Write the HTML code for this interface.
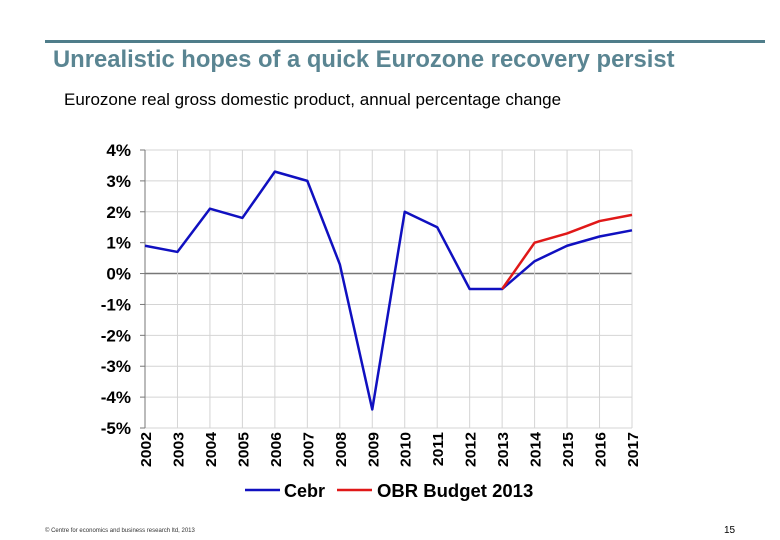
<!DOCTYPE html>
<html><head><meta charset="utf-8"><style>
body{margin:0;width:780px;height:540px;background:#fff;overflow:hidden;font-family:"Liberation Sans",sans-serif;position:relative}
.abs{position:absolute}
</style></head><body>
<div class="abs" style="left:45px;top:40px;width:720px;height:3px;background:#4f7d8a"></div>
<div class="abs" style="left:53px;top:46px;font-size:23.8px;font-weight:bold;color:#5a8592;white-space:nowrap">Unrealistic hopes of a quick Eurozone recovery persist</div>
<div class="abs" style="left:64px;top:90px;font-size:17px;color:#000;white-space:nowrap">Eurozone real gross domestic product, annual percentage change</div>
<svg class="abs" style="left:0;top:0" width="780" height="540" id="chart"></svg>
<div class="abs" style="left:45px;top:528px;font-size:6px;color:#333">© Centre for economics and business research ltd, 2013</div>
<div class="abs" style="left:724px;top:525px;font-size:10px;color:#000">15</div>
<script>
const years=["2002","2003","2004","2005","2006","2007","2008","2009","2010","2011","2012","2013","2014","2015","2016","2017"];
const cebr=[0.9,0.7,2.1,1.8,3.3,3.0,0.3,-4.4,2.0,1.5,-0.5,-0.5,0.4,0.9,1.2,1.4];
const obrYears=["2013","2014","2015","2016","2017"];
const obr=[-0.5,1.0,1.3,1.7,1.9];
const yTicks=[4,3,2,1,0,-1,-2,-3,-4,-5];
const NS="http://www.w3.org/2000/svg";
const svg=document.getElementById('chart');
const x0=145,x1=632,yTop=150,yBot=428,vMax=4,vMin=-5;
const xs=i=>x0+(x1-x0)*i/(years.length-1);
const xy=y=>xs(years.indexOf(y));
const ys=v=>yTop+(vMax-v)*(yBot-yTop)/(vMax-vMin);
function mk(t,a){const e=document.createElementNS(NS,t);for(const k in a)e.setAttribute(k,a[k]);svg.appendChild(e);return e;}
yTicks.forEach(v=>{
 const l=mk('line',{x1:x0,x2:x1,y1:ys(v),y2:ys(v),stroke:v===0?'#777':'#d4d4d4','stroke-width':v===0?1.5:1});
 
 
 const t=mk('text',{x:x0-14,y:ys(v)+6,'text-anchor':'end','font-size':17,'font-weight':'bold',fill:'#000'});
 t.textContent=v+'%';
 
 
 const tk=mk('line',{x1:x0-5,x2:x0,y1:ys(v),y2:ys(v),stroke:'#777'});
 
 
});
years.forEach((y,i)=>{
 const g=mk('line',{x1:xs(i),x2:xs(i),y1:yTop,y2:yBot,stroke:i===0?'#777':'#d4d4d4','stroke-width':1});
 
 
 const t=mk('text',{transform:`translate(${xs(i)+6},${yBot+4}) rotate(-90) scale(1.05,1)`,'text-anchor':'end','font-size':15,'font-weight':'bold',fill:'#000'});
 t.textContent=y;
 
 
});
const p1=mk('polyline',{points:cebr.map((v,i)=>xs(i)+','+ys(v)).join(' '),fill:'none',stroke:'#1010c0','stroke-width':2.5,'stroke-linejoin':'round'});


const p2=mk('polyline',{points:obr.map((v,i)=>xy(obrYears[i])+','+ys(v)).join(' '),fill:'none',stroke:'#e01818','stroke-width':2.5,'stroke-linejoin':'round'});


const l1=mk('line',{x1:245,x2:280,y1:490,y2:490,stroke:'#1010c0','stroke-width':2.5});


const t1=mk('text',{x:284,y:497,'font-size':18,'font-weight':'bold',fill:'#000'});t1.textContent='Cebr';


const l2=mk('line',{x1:337,x2:372,y1:490,y2:490,stroke:'#e01818','stroke-width':2.5});


const t2=mk('text',{x:377,y:497,'font-size':18.5,'font-weight':'bold',fill:'#000'});t2.textContent='OBR Budget 2013';


</script>
</body></html>
